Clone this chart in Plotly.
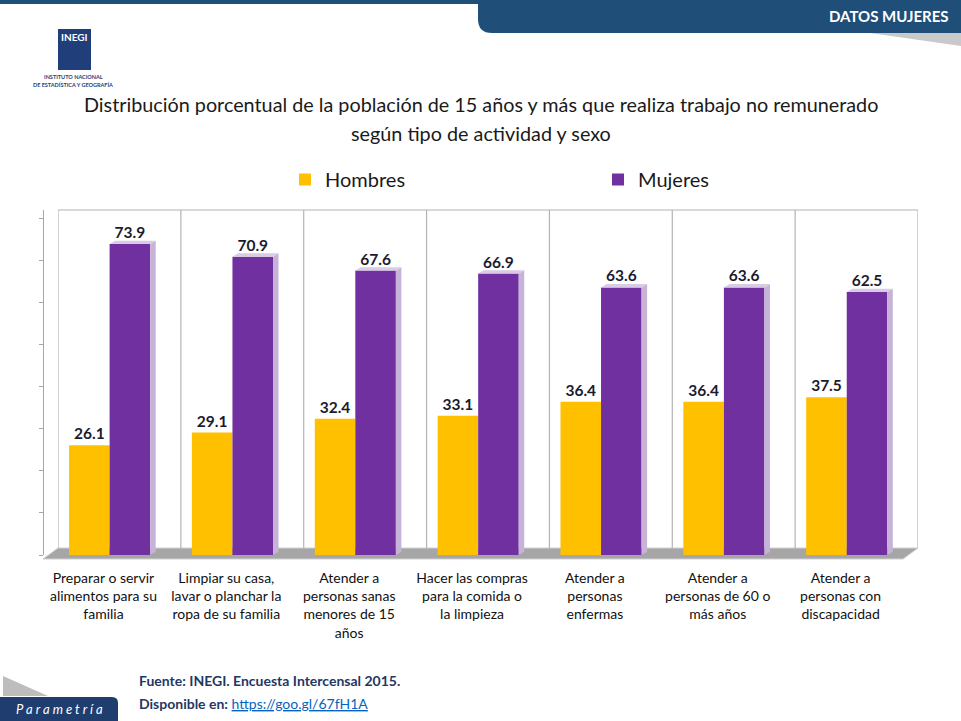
import plotly.graph_objects as go

# datos
categorias = [
    "Preparar o servir<br>alimentos para su<br>familia",
    "Limpiar su casa,<br>lavar o planchar la<br>ropa de su familia",
    "Atender a<br>personas sanas<br>menores de 15<br>años",
    "Hacer las compras<br>para la comida o<br>la limpieza",
    "Atender a<br>personas<br>enfermas",
    "Atender a<br>personas de 60 o<br>más años",
    "Atender a<br>personas con<br>discapacidad",
]
hombres = [26.1, 29.1, 32.4, 33.1, 36.4, 36.4, 37.5]
mujeres = [73.9, 70.9, 67.6, 66.9, 63.6, 63.6, 62.5]

W, H = 961, 721
ML, MR, MT, MB = 43, 43, 210, 166
PW, PH = W - ML - MR, H - MT - MB
FONT = "Lato"


def px(x):
    return (x - ML) / PW


def py(y):
    return (H - MB - y) / PH


xs = list(range(len(categorias)))
ancho = 0.33

fig = go.Figure()
fig.add_bar(x=xs, y=hombres, name="Hombres", width=ancho, offset=-0.41,
            marker=dict(color="#FFC000", line=dict(width=0)),
            text=[f"{v:.1f}" for v in hombres], textposition="outside",
            textfont=dict(family=FONT, size=15.5, color="#1b1b2f", weight="bold"),
            cliponaxis=False)
fig.add_bar(x=xs, y=mujeres, name="Mujeres", width=ancho, offset=-0.08,
            marker=dict(color="#7030A0", line=dict(width=0)),
            text=[f"{v:.1f}" for v in mujeres], textposition="outside",
            textfont=dict(family=FONT, size=15.5, color="#1b1b2f", weight="bold"),
            cliponaxis=False)

shapes = []
# piso gris
shapes.append(dict(type="path", xref="paper", yref="paper", layer="below",
                   path=f"M {px(43)},{py(559)} L {px(58)},{py(548)} L {px(918)},{py(548)} "
                        f"L {px(903)},{py(559)} Z",
                   fillcolor="#A6A6A6", line=dict(color="#D0D0D0", width=1)))
# pared del fondo: separadores
for k in range(len(categorias) + 1):
    shapes.append(dict(type="line", xref="x", yref="paper", layer="below",
                       x0=k - 0.5, x1=k - 0.5, y0=py(548), y1=1,
                       line=dict(color="#B4B4B4", width=1.2)))
shapes.append(dict(type="line", xref="x", yref="paper", layer="below",
                   x0=-0.5, x1=len(categorias) - 0.5, y0=1, y1=1,
                   line=dict(color="#B4B4B4", width=1.2)))
# caras laterales de las barras de mujeres
for i, v in enumerate(mujeres):
    xl = i - 0.08
    xr = xl + ancho
    d, r = 0.045, 0.8
    shapes.append(dict(type="path", xref="x", yref="y", layer="above",
                       path=f"M {xr},0 L {xr},{v} L {xr + d},{v + r} L {xr + d},{r} Z",
                       fillcolor="#C7B3D8", line=dict(width=0)))
    shapes.append(dict(type="path", xref="x", yref="y", layer="above",
                       path=f"M {xl},{v} L {xl + d},{v + r} L {xr + d},{v + r} L {xr},{v} Z",
                       fillcolor="#D9CBE5", line=dict(width=0)))

# encabezado
shapes.append(dict(type="rect", xref="paper", yref="paper", x0=px(0), x1=px(W),
                   y0=py(4), y1=py(0), fillcolor="#1F4E79", line=dict(width=0)))
shapes.append(dict(type="path", xref="paper", yref="paper",
                   path=f"M {px(478)},{py(0)} L {px(961)},{py(0)} L {px(961)},{py(33)} "
                        f"L {px(492)},{py(33)} Q {px(478)},{py(33)} {px(478)},{py(19)} Z",
                   fillcolor="#1F4E79", line=dict(width=0)))
shapes.append(dict(type="path", xref="paper", yref="paper",
                   path=f"M {px(870)},{py(33)} L {px(961)},{py(33)} L {px(961)},{py(46)} Z",
                   fillcolor="#C9C9C9", line=dict(width=0)))
# logo INEGI
shapes.append(dict(type="rect", xref="paper", yref="paper", x0=px(58), x1=px(91),
                   y0=py(70), y1=py(29), fillcolor="#1F3E7A", line=dict(width=0)))
# pie Parametría
shapes.append(dict(type="path", xref="paper", yref="paper",
                   path=f"M {px(0)},{py(697)} L {px(112)},{py(697)} Q {px(118)},{py(697)} "
                        f"{px(118)},{py(703)} L {px(118)},{py(721)} L {px(0)},{py(721)} Z",
                   fillcolor="#1F3D6E", line=dict(width=0)))
shapes.append(dict(type="path", xref="paper", yref="paper",
                   path=f"M {px(3)},{py(676)} L {px(48)},{py(696)} L {px(3)},{py(696)} Z",
                   fillcolor="#BDBDBD", line=dict(width=0)))

anotaciones = [
    dict(text="Distribución porcentual de la población de 15 años y más que realiza trabajo no remunerado",
         x=px(481), y=py(104), font=dict(size=19.8, color="#1a1a1a")),
    dict(text="según tipo de actividad y sexo",
         x=px(481), y=py(133), font=dict(size=19.8, color="#1a1a1a")),
    dict(text="<b>DATOS MUJERES</b>", x=px(951), y=py(16), xanchor="right",
         font=dict(size=15, color="white")),
    dict(text="<b>INEGI</b>", x=px(74.5), y=py(37), font=dict(size=10, color="white")),
    dict(text="<b>INSTITUTO NACIONAL</b>", x=px(73), y=py(77), font=dict(size=5.5, color="#1F3E7A")),
    dict(text="<b>DE ESTADÍSTICA Y GEOGRAFÍA</b>", x=px(73), y=py(85), font=dict(size=5.5, color="#1F3E7A")),
    dict(text="<b>Fuente: INEGI. Encuesta Intercensal 2015.</b>", x=px(137), y=py(680),
         xanchor="left", font=dict(size=14, color="#1F3864")),
    dict(text="<b>Disponible en:</b> <a href='https://goo.gl/67fH1A'><span style='color:#0563C1'><u>https://goo.gl/67fH1A</u></span></a>",
         x=px(137), y=py(703), xanchor="left", font=dict(size=14, color="#1F3864")),
    dict(text="<i>P a r a m e t r í a</i>", x=px(59), y=py(709), font=dict(size=13, color="white")),
]
for a in anotaciones:
    a.setdefault("xanchor", "center")
    a["font"].setdefault("family", FONT)
    fig.add_annotation(xref="paper", yref="paper", yanchor="middle", showarrow=False, **a)

fig.update_layout(
    width=W, height=H,
    margin=dict(l=ML, r=MR, t=MT, b=MB, autoexpand=False),
    paper_bgcolor="white", plot_bgcolor="rgba(0,0,0,0)",
    barmode="group",
    font=dict(family=FONT, color="#1a1a1a"),
    showlegend=True,
    legend=dict(orientation="h", x=px(285), y=py(160), xanchor="left", yanchor="top",
                entrywidth=268, entrywidthmode="pixels", font=dict(size=20, color="#1a1a1a"),
                bgcolor="rgba(0,0,0,0)", itemclick=False),
    shapes=shapes,
    xaxis=dict(domain=[15 / PW, 1], range=[-0.5, len(categorias) - 0.5],
               tickvals=[i - 0.13 for i in xs], ticktext=categorias, ticks="",
               showgrid=False, zeroline=False, showline=False,
               tickfont=dict(family=FONT, size=14, color="#111111"), ticklabelstandoff=13),
    yaxis=dict(range=[0, 82], anchor="free", position=0, dtick=10, ticks="outside",
               ticklen=4, tickcolor="#A6A6A6", showticklabels=False, showgrid=False,
               zeroline=False, showline=True, linecolor="#A6A6A6", linewidth=1),
)

fig.write_html("out.html", config={"displayModeBar": False},
               post_script="document.body.style.margin='0';")
